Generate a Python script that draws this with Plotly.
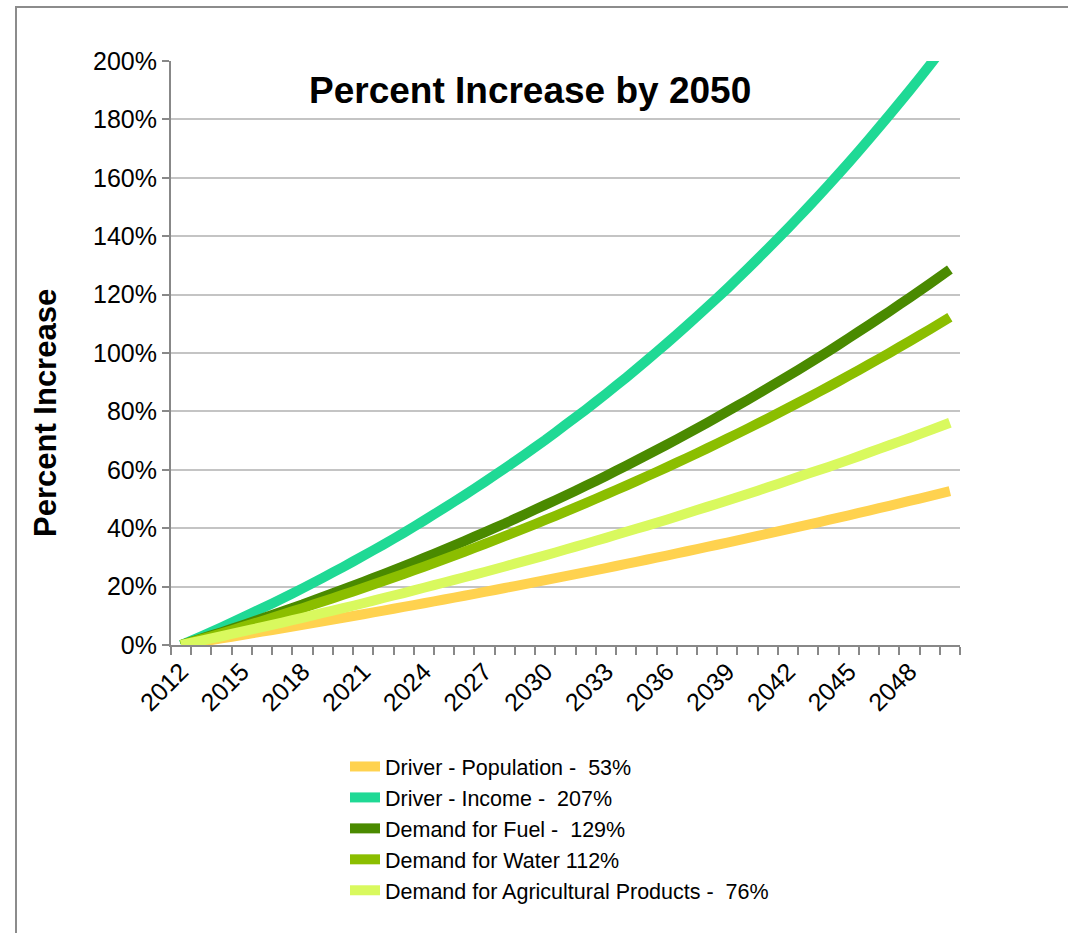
import plotly.graph_objects as go

years = list(range(2012, 2051))
tick_years = list(range(2012, 2051, 3))

population = [0.0, 1.12, 2.25, 3.40, 4.56, 5.73, 6.91, 8.11, 9.32, 10.54, 11.78, 13.03, 14.30,
              15.58, 16.87, 18.18, 19.51, 20.85, 22.20, 23.57, 24.95, 26.35, 27.77, 29.20, 30.64,
              32.11, 33.59, 35.08, 36.60, 38.13, 39.67, 41.24, 42.82, 44.42, 46.04, 47.67, 49.33,
              51.00, 52.69]
income = [0.0, 3.0, 6.1, 9.3, 12.6, 15.9, 19.4, 23.0, 26.7, 30.5, 34.4, 38.4, 42.6, 46.9, 51.3,
          55.8, 60.5, 65.3, 70.2, 75.4, 80.6, 86.0, 91.6, 97.4, 103.3, 109.4, 115.7, 122.1, 128.8,
          135.7, 142.7, 150.0, 157.5, 165.2, 173.2, 181.4, 189.8, 198.5, 207.5]
fuel = [0.0, 2.2, 4.4, 6.7, 9.1, 11.5, 13.9, 16.5, 19.0, 21.6, 24.3, 27.0, 29.8, 32.7, 35.6,
        38.6, 41.6, 44.8, 48.0, 51.2, 54.5, 57.9, 61.4, 65.0, 68.6, 72.3, 76.1, 80.0, 83.9, 88.0,
        92.1, 96.3, 100.6, 105.1, 109.6, 114.2, 118.9, 123.7, 128.6]
water = [0.0, 2.0, 4.04, 6.12, 8.24, 10.41, 12.62, 14.87, 17.17, 19.51, 21.90, 24.34, 26.82,
         29.36, 31.95, 34.59, 37.28, 40.02, 42.82, 45.68, 48.59, 51.57, 54.60, 57.69, 60.84,
         64.06, 67.34, 70.69, 74.10, 77.58, 81.14, 84.76, 88.45, 92.22, 96.07, 99.99, 103.99,
         108.07, 112.23]
agriculture = [0.0, 1.5, 3.0, 4.6, 6.1, 7.7, 9.3, 11.0, 12.6, 14.3, 16.1, 17.8, 19.6, 21.4, 23.2,
               25.0, 26.9, 28.8, 30.7, 32.7, 34.7, 36.7, 38.8, 40.8, 42.9, 45.1, 47.3, 49.5, 51.7,
               54.0, 56.3, 58.7, 61.0, 63.4, 65.9, 68.4, 70.9, 73.5, 76.1]

series_names = ["Driver - Population -  53%", "Driver - Income -  207%", "Demand for Fuel -  129%",
                "Demand for Water 112%", "Demand for Agricultural Products -  76%"]
series_values = [population, income, fuel, water, agriculture]
series_colors = ["#FFD24F", "#1FD995", "#4A8A00", "#8BBE00", "#D9F95E"]

W, H = 1068, 933
L, R, T, B = 171, 960, 61, 645
pw, ph = R - L, B - T

def px_x(x):
    return (x - L) / pw

def px_y(y):
    return (B - y) / ph

fig = go.Figure()
for name, vals, col in zip(series_names, series_values, series_colors):
    fig.add_trace(go.Scatter(x=years, y=vals, mode="lines", name=name,
                             line=dict(color=col, width=10, shape="spline", smoothing=0.3)))

font = "Liberation Sans, Arial, sans-serif"

fig.update_layout(
    width=W, height=H,
    margin=dict(l=L, r=W - R, t=T, b=H - B, pad=0),
    paper_bgcolor="white", plot_bgcolor="white",
    font=dict(family=font, color="black", size=25),
    showlegend=True,
    legend=dict(x=px_x(345), xanchor="left", y=px_y(746), yanchor="top",
                font=dict(size=21.5, family=font, color="black"),
                bgcolor="rgba(0,0,0,0)", itemwidth=30, tracegroupgap=0),
    xaxis=dict(range=[2011.5, 2050.5], tickmode="array", tickvals=tick_years,
               ticktext=[str(y) for y in tick_years], tickangle=-45, ticks="",
               showline=True, linecolor="#888888", linewidth=2, showgrid=False,
               zeroline=False, tickfont=dict(size=25, family=font),
               minor=dict(ticks="outside", tick0=2011.5, dtick=1, ticklen=8,
                          tickcolor="#888888", tickwidth=2, showgrid=False)),
    yaxis=dict(range=[0, 200], dtick=20, ticksuffix="%", ticks="outside", ticklen=7,
               tickcolor="#888888", tickwidth=2, showline=True, linecolor="#888888", linewidth=2,
               showgrid=True, gridcolor="#C4C4C4", gridwidth=2, zeroline=False,
               tickfont=dict(size=25, family=font)),
    annotations=[
        dict(text="<b>Percent Increase by 2050</b>", xref="paper", yref="paper",
             x=px_x(530), y=px_y(90), xanchor="center", yanchor="middle", showarrow=False,
             font=dict(size=37, family=font, color="black")),
        dict(text="<b>Percent Increase</b>", xref="paper", yref="paper",
             x=px_x(45), y=px_y(413), xanchor="center", yanchor="middle", showarrow=False,
             textangle=-90, font=dict(size=31, family=font, color="black")),
    ],
    shapes=[
        dict(type="rect", xref="paper", yref="paper", x0=px_x(16), x1=px_x(1080),
             y0=px_y(945), y1=px_y(7), line=dict(color="#8C8C8C", width=2), layer="below"),
    ],
)

fig.write_html("out.html")
